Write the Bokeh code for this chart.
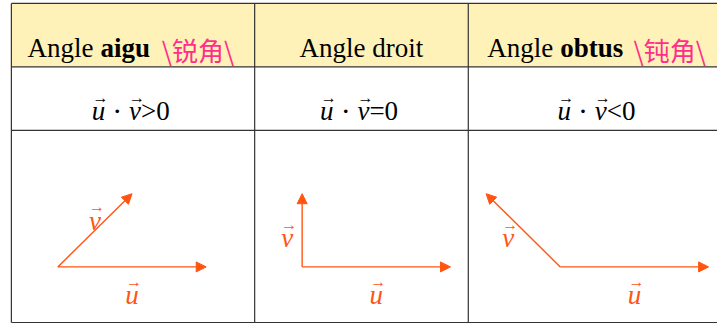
from bokeh.plotting import figure
from bokeh.models import Range1d, Arrow, NormalHead, ColumnDataSource
from bokeh.core.properties import value
from bokeh.embed import file_html
from bokeh.resources import INLINE

# ---- data ----
angle_word = ["Angle", "Angle droit", "Angle"]
angle_bold = ["aigu", "", "obtus"]
angle_cjk = ["\\锐角\\", "", "\\钝角\\"]
sign_text = [">0", "=0", "<0"]
u_dx = [2, 2, 2]
u_dy = [0, 0, 0]
v_dx = [1, 0, -1]
v_dy = [1, 1, 1]

# ---- layout (reference pixel space) ----
col_edges = [11, 257, 473, 740]
row_edges = [3, 68, 133, 330]
col_centers = [134, 365, 605]
origin_x = [58, 305, 566]
origin_y = 273
unit = 75

HEAD_BG = "#fff2b8"
LINE = "#333333"
PINK = "#ff2e8c"
ORANGE = "#ff5511"
SERIF = value("Liberation Serif")
CJK = value("Noto Sans CJK SC")
FS = "27px"
AFS = "16px"

p = figure(width=717, height=323, output_backend="svg", toolbar_location=None,
           x_range=Range1d(0, 725), y_range=Range1d(331, 0),
           min_border=0, background_fill_color="white", border_fill_color="white")
p.axis.visible = False
p.grid.visible = False
p.outline_line_color = None

# header background
p.quad(left=[col_edges[0]], right=[col_edges[-1]], top=[row_edges[0]], bottom=[row_edges[1]],
       fill_color=HEAD_BG, line_color=None)

# grid lines
p.segment(x0=[col_edges[0]] * 4, x1=[col_edges[-1]] * 4, y0=row_edges, y1=row_edges,
          line_color=LINE, line_width=1.2)
p.segment(x0=col_edges, x1=col_edges, y0=[row_edges[0]] * 4, y1=[row_edges[-1]] * 4,
          line_color=LINE, line_width=1.2)


def txt(x, y, s, color="black", font=SERIF, size=FS, style="normal", align="center"):
    p.text(x=x, y=y, text=s, text_font=font, text_font_size=size, text_font_style=style,
           text_align=align, text_baseline="alphabetic", text_color=color)


# header texts
hy_base = 49
bold_start = [101, None, 566]
cjk_start = [163, None, 640]
for i in range(3):
    if angle_bold[i]:
        bs = bold_start[i]
        txt([bs - 7], [hy_base], [angle_word[i]], align="right")
        txt([bs], [hy_base], [angle_bold[i]], style="bold", align="left")
        txt([cjk_start[i]], [hy_base + 1], [angle_cjk[i]], color=PINK, font=CJK, size="26px", align="left")
    else:
        txt([col_centers[i]], [hy_base], [angle_word[i]])

# math row
my_base = 113
for i in range(3):
    c = col_centers[i]
    txt([c - 35], [my_base], ["u"], style="italic")
    txt([c - 33], [my_base - 14], ["\u2192"], size=AFS)
    txt([c - 16], [my_base], ["\u00b7"], size="30px")
    txt([c + 2], [my_base], ["v"], style="italic")
    txt([c + 4], [my_base - 14], ["\u2192"], size=AFS)
    txt([c + 8], [my_base], [sign_text[i]], align="left")

# vectors
x0 = origin_x * 2
y0 = [origin_y] * 6
x1 = [origin_x[i] + u_dx[i] * unit for i in range(3)] + [origin_x[i] + v_dx[i] * unit for i in range(3)]
y1 = [origin_y - u_dy[i] * unit for i in range(3)] + [origin_y - v_dy[i] * unit for i in range(3)]
src = ColumnDataSource(dict(x0=x0, y0=y0, x1=x1, y1=y1))
p.add_layout(Arrow(end=NormalHead(size=10, fill_color=ORANGE, line_color=ORANGE, line_width=1),
                   x_start="x0", y_start="y0", x_end="x1", y_end="y1", source=src,
                   line_color=ORANGE, line_width=1.4))

# vector labels
u_lab_x = [(x0[i] + x1[i]) / 2 for i in range(3)]
u_lab_y = [origin_y + 29] * 3
txt(u_lab_x, u_lab_y, ["u"] * 3, color=ORANGE, style="italic")
txt([x + 2 for x in u_lab_x], [y - 14 for y in u_lab_y], ["\u2192"] * 3, color=ORANGE, size=AFS)

v_off_x = [0, -15, -15]
v_off_y = [-10, 8, 8]
v_lab_x = [(x0[3 + i] + x1[3 + i]) / 2 + v_off_x[i] for i in range(3)]
v_lab_y = [(y0[3 + i] + y1[3 + i]) / 2 + v_off_y[i] for i in range(3)]
txt(v_lab_x, v_lab_y, ["v"] * 3, color=ORANGE, style="italic")
txt([x + 2 for x in v_lab_x], [y - 14 for y in v_lab_y], ["\u2192"] * 3, color=ORANGE, size=AFS)

open("out.html", "w").write(file_html(p, INLINE))
